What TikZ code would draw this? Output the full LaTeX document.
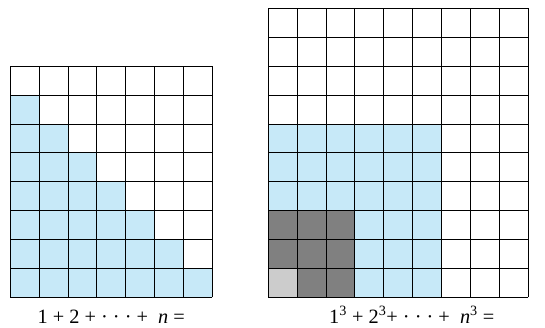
\documentclass[tikz,border=0pt]{standalone}
\usepackage{fontspec}
\setmainfont{Liberation Serif}
\usetikzlibrary{positioning}
\definecolor{cellblue}{RGB}{199,233,248}
\definecolor{celldark}{RGB}{128,128,128}
\definecolor{celllight}{RGB}{204,204,204}

\begin{document}
\begin{tikzpicture}[
    gridline/.style={line width=0.8pt, black},
    tri/.style={fill=cellblue},
    cube/.style={fill=celldark},
    unit/.style={fill=celllight},
    lbl/.style={font=\fontsize{20}{24}\selectfont, anchor=base, inner sep=0pt}
]
\useasboundingbox (-0.35,-1.06) rectangle (18.51,10.29);
% staircase 1+2+...+n
\foreach \i in {1,...,7}
    \fill[tri] (\i-1,0) rectangle (\i,8-\i);
\draw[gridline] (0,0) grid (7,8);
\node[lbl] (sumn) at (3.5,-0.9) {1 + 2 + · · · +\ \ \textit{n} =};
% squares of cubes
\begin{scope}[xshift=8.93cm]
\fill[tri] (0,0) rectangle (6,6);
\fill[cube] (0,0) rectangle (3,3);
\fill[unit] (0,0) rectangle (1,1);
\draw[gridline] (0,0) grid (9,10);
\node[lbl] (sumcube) at (4.97,-0.9) {1\textsuperscript{3} + 2\textsuperscript{3}+ · · · +\ \ \textit{n}\textsuperscript{3} =};
\end{scope}
\end{tikzpicture}
\end{document}
